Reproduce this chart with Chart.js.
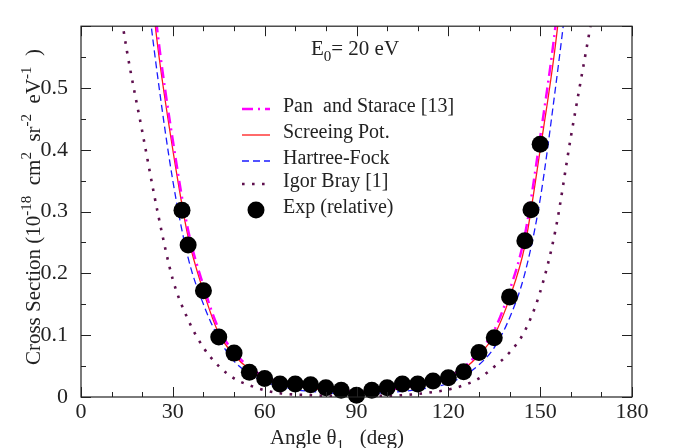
<!DOCTYPE html>
<html lang="en">
<head>
<meta charset="UTF-8">
<title>Cross Section vs Angle, E0 = 20 eV</title>
<script src="https://cdn.jsdelivr.net/npm/chart.js"></script>
<style>
  body { margin: 0; background: #fff; }
  #wrap { width: 677px; height: 448px; }
</style>
</head>
<body>
<div id="wrap"><canvas id="xsChart" width="677" height="448"></canvas></div>
<script>
// tick labels
const xTickValues = [0, 30, 60, 90, 120, 150, 180];
const yTickValues = [0, 0.1, 0.2, 0.3, 0.4, 0.5];
const xMinorStep = 10;
const yMinorStep = 0.05;

// experiment (relative)
const expAngles = [33, 35, 40, 45, 50, 55, 60, 65, 70, 75, 80, 85, 90, 95, 100, 105, 110, 115, 120, 125, 130, 135, 140, 145, 147, 150];
const expValues = [0.302, 0.246, 0.172, 0.097, 0.071, 0.040, 0.030, 0.021, 0.021, 0.020, 0.015, 0.011, 0.003, 0.011, 0.015, 0.021, 0.021, 0.026, 0.031, 0.041, 0.072, 0.096, 0.162, 0.253, 0.303, 0.409];

// theory curves (every 5 deg)
const curveAngles = [20, 25, 30, 35, 40, 45, 50, 55, 60, 65, 70, 75, 80, 85, 90, 95, 100, 105, 110, 115, 120, 125, 130, 135, 140, 145, 150, 155, 160];
const panValues    = [0.83, 0.59, 0.415, 0.27, 0.180, 0.110, 0.073, 0.048, 0.033, 0.024, 0.019, 0.015, 0.012, 0.010, 0.009, 0.010, 0.012, 0.015, 0.019, 0.024, 0.033, 0.048, 0.073, 0.108, 0.172, 0.262, 0.42, 0.60, 0.84];
const screenValues = [0.80, 0.57, 0.40, 0.259, 0.171, 0.103, 0.068, 0.045, 0.031, 0.023, 0.018, 0.014, 0.011, 0.009, 0.008, 0.009, 0.011, 0.014, 0.018, 0.023, 0.031, 0.045, 0.068, 0.100, 0.160, 0.245, 0.40, 0.57, 0.80];
const hfValues     = [0.72, 0.52, 0.35, 0.225, 0.150, 0.095, 0.058, 0.038, 0.025, 0.017, 0.012, 0.009, 0.007, 0.006, 0.006, 0.006, 0.007, 0.009, 0.012, 0.016, 0.022, 0.034, 0.052, 0.080, 0.128, 0.200, 0.32, 0.50, 0.70];

const brayAngles = [10, 15, 20, 25, 30, 35, 40, 45, 50, 55, 60, 65, 70, 75, 80, 85, 90, 95, 100, 105, 110, 115, 120, 125, 130, 135, 140, 145, 150, 155, 160, 165, 170];
const brayValues = [0.72, 0.56, 0.43, 0.30, 0.19, 0.125, 0.08, 0.05, 0.03, 0.019, 0.011, 0.006, 0.004, 0.003, 0.002, 0.002, 0.002, 0.002, 0.002, 0.003, 0.005, 0.008, 0.012, 0.019, 0.030, 0.049, 0.072, 0.107, 0.17, 0.27, 0.42, 0.56, 0.70];

function pairs(xs, ys) {
    return xs.map((x, i) => ({ x: x, y: ys[i] }));
}

const serif = '"Liberation Serif", "Times New Roman", serif';
const ink = '#222';

// draws text with super/subscripts, parts = [[text, shift]] shift 1 = sup, -1 = sub
function drawRich(ctx, parts, x, y, size) {
    const small = Math.round(size * 0.72);
    let total = 0;
    parts.forEach(p => {
        ctx.font = (p[1] ? small : size) + 'px ' + serif;
        total += ctx.measureText(p[0]).width;
    });
    let cx = x - total / 2;
    ctx.textAlign = 'left';
    ctx.textBaseline = 'alphabetic';
    parts.forEach(p => {
        ctx.font = (p[1] ? small : size) + 'px ' + serif;
        const dy = p[1] === 1 ? -size * 0.42 : (p[1] === -1 ? size * 0.3 : 0);
        ctx.fillText(p[0], cx, y + dy);
        cx += ctx.measureText(p[0]).width;
    });
}

const decorPlugin = {
    id: 'decor',
    afterDraw(chart) {
        const ctx = chart.ctx;
        const a = chart.chartArea;
        const xs = chart.scales.x, ys = chart.scales.y;
        ctx.save();
        ctx.strokeStyle = ink;
        ctx.lineWidth = 1.2;
        ctx.setLineDash([]);
        ctx.strokeRect(a.left, a.top, a.right - a.left, a.bottom - a.top);

        // inward ticks on all four sides
        ctx.lineWidth = 1;
        ctx.beginPath();
        for (let v = 0; v <= 180; v += xMinorStep) {
            const px = Math.round(xs.getPixelForValue(v)) + 0.5;
            const len = v % 30 === 0 ? 10 : 5;
            ctx.moveTo(px, a.bottom); ctx.lineTo(px, a.bottom - len);
            ctx.moveTo(px, a.top); ctx.lineTo(px, a.top + len);
        }
        for (let i = 0; i <= 12; i++) {
            const v = i * yMinorStep;
            const py = Math.round(ys.getPixelForValue(v)) + 0.5;
            const len = i % 2 === 0 ? 10 : 5;
            ctx.moveTo(a.left, py); ctx.lineTo(a.left + len, py);
            ctx.moveTo(a.right, py); ctx.lineTo(a.right - len, py);
        }
        ctx.stroke();

        // axis titles
        ctx.fillStyle = ink;
        drawRich(ctx, [['Angle \u03b8', 0], ['1', -1], ['   (deg)', 0]], 337, 444, 21);
        ctx.save();
        ctx.translate(40, 207);
        ctx.rotate(-Math.PI / 2);
        drawRich(ctx, [['Cross Section (10', 0], ['-18', 1], ['  cm', 0], ['2', 1], ['  sr', 0], ['-2', 1], ['  eV', 0], ['-1', 1], ['  )', 0]], 0, 0, 21);
        ctx.restore();

        // energy label
        drawRich(ctx, [['E', 0], ['0', -1], ['= 20 eV', 0]], 355, 55, 21);

        // legend inside the plot
        const rows = [107, 133, 159, 182, 208];
        const order = [1, 2, 3, 4, 0];
        order.forEach((di, r) => {
            const ds = chart.data.datasets[di];
            const y = rows[r];
            if (ds.showLine === false) {
                ctx.fillStyle = '#000';
                ctx.beginPath();
                ctx.arc(256, y + 2, 8.5, 0, Math.PI * 2);
                ctx.fill();
            } else {
                ctx.strokeStyle = ds.borderColor;
                ctx.lineWidth = ds.borderWidth;
                ctx.setLineDash(ds.borderDash || []);
                ctx.beginPath();
                ctx.moveTo(242, y + 2); ctx.lineTo(270, y + 2);
                ctx.stroke();
                ctx.setLineDash([]);
            }
            ctx.fillStyle = ink;
            ctx.font = '20px ' + serif;
            ctx.textAlign = 'left';
            ctx.textBaseline = 'middle';
            ctx.fillText(ds.label, 283, y);
        });
        ctx.restore();
    }
};

const ctx = document.getElementById('xsChart').getContext('2d');
new Chart(ctx, {
    type: 'line',
    data: {
        datasets: [
            {
                label: 'Exp (relative)', data: pairs(expAngles, expValues), showLine: false,
                pointRadius: 8.5, pointBackgroundColor: '#000', pointBorderWidth: 0,
                borderColor: '#000', backgroundColor: '#000', clip: false, order: 0
            },
            {
                label: 'Pan  and Starace [13]', data: pairs(curveAngles, panValues),
                borderColor: '#ff00ff', borderWidth: 2.5, borderDash: [11, 5, 2, 5],
                pointRadius: 0, cubicInterpolationMode: 'monotone', order: 1
            },
            {
                label: 'Screeing Pot.', data: pairs(curveAngles, screenValues),
                borderColor: '#ff1a1a', borderWidth: 1.3,
                pointRadius: 0, cubicInterpolationMode: 'monotone', order: 2
            },
            {
                label: 'Hartree-Fock', data: pairs(curveAngles, hfValues),
                borderColor: '#1a1aff', borderWidth: 1.3, borderDash: [7, 4],
                pointRadius: 0, cubicInterpolationMode: 'monotone', order: 3
            },
            {
                label: 'Igor Bray [1]', data: pairs(brayAngles, brayValues),
                borderColor: '#5e0f4e', borderWidth: 2.6, borderDash: [2.6, 7.4],
                pointRadius: 0, cubicInterpolationMode: 'monotone', order: 4
            }
        ]
    },
    options: {
        responsive: false,
        animation: false,
        devicePixelRatio: 1,
        layout: { padding: { top: 11, right: 45, left: 0, bottom: 0 } },
        plugins: { legend: { display: false }, tooltip: { enabled: false } },
        scales: {
            x: {
                type: 'linear', min: 0, max: 180,
                grid: { display: false, drawTicks: false },
                border: { display: false },
                ticks: { font: { family: serif, size: 22 }, color: ink, padding: 2, maxRotation: 0, autoSkip: false },
                afterBuildTicks: s => { s.ticks = xTickValues.map(v => ({ value: v })); },
                afterFit: s => { s.height = 51; }
            },
            y: {
                type: 'linear', min: 0, max: 0.6,
                grid: { display: false, drawTicks: false },
                border: { display: false },
                ticks: {
                    font: { family: serif, size: 22 }, color: ink, padding: 13, autoSkip: false,
                    callback: v => (v === 0 ? '0' : v.toFixed(1))
                },
                afterBuildTicks: s => { s.ticks = yTickValues.map(v => ({ value: v })); },
                afterFit: s => { s.width = 81; }
            }
        }
    },
    plugins: [decorPlugin]
});
</script>
</body>
</html>
